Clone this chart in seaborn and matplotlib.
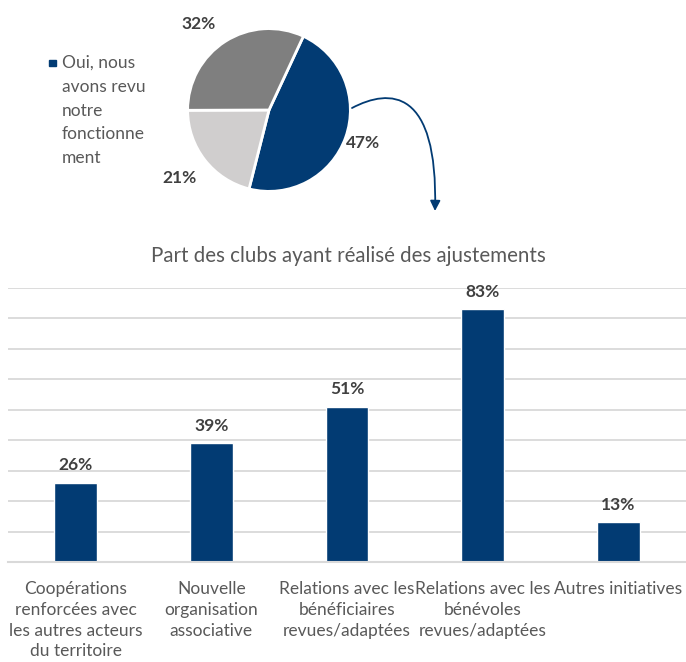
import matplotlib
matplotlib.use("Agg")
import matplotlib.pyplot as plt
from matplotlib.patches import FancyArrowPatch
from matplotlib.path import Path
import seaborn as sns

# données du camembert
pie_values = [47, 21, 32]
pie_labels = ["47%", "21%", "32%"]
pie_colors = ["#023B73", "#D0CECE", "#7F7F7F"]
legend_text = "Oui, nous\navons revu\nnotre\nfonctionne\nment"

# données du graphique en barres
categories = [
    "Coopérations\nrenforcées avec\nles autres acteurs\ndu territoire",
    "Nouvelle\norganisation\nassociative",
    "Relations avec les\nbénéficiaires\nrevues/adaptées",
    "Relations avec les\nbénévoles\nrevues/adaptées",
    "Autres initiatives",
]
values = [0.26, 0.39, 0.51, 0.83, 0.13]
bar_labels = ["26%", "39%", "51%", "83%", "13%"]

W, H = 686, 662
BLEU = "#023B73"
TEXTE = "#404040"
GRIS = "#595959"


def fx(x):
    return x / W


def fy(y):
    return 1 - y / H


sns.set_theme(style="white")
plt.rcParams['font.family'] = ['Lato', 'DejaVu Sans']

fig = plt.figure(figsize=(W / 100, H / 100), dpi=100)

# camembert
cx, cy, r = 269, 110, 83
ax_pie = fig.add_axes([fx(cx - r), fy(cy + r), 2 * r / W, 2 * r / H])
ax_pie.pie(pie_values, colors=pie_colors, startangle=65, counterclock=False,
           wedgeprops=dict(edgecolor="white", linewidth=2))
ax_pie.set_xlim(-1.02, 1.02)
ax_pie.set_ylim(-1.02, 1.02)
ax_pie.set_aspect("equal")

# étiquettes du camembert
pie_pos = [(363, 143), (180, 178), (199, 24)]
for lab, (x, y) in zip(pie_labels, pie_pos):
    fig.text(fx(x), fy(y), lab, ha="center", va="center", fontsize=12.5,
             fontweight="bold", color=TEXTE)

# légende
fig.patches.append(plt.Rectangle((fx(49), fy(66)), 6.5 / W, 6.5 / H,
                                 transform=fig.transFigure, color=BLEU))
fig.text(fx(62), fy(55), legend_text, ha="left", va="top", fontsize=12.5,
         color=GRIS, linespacing=1.6)

# flèche courbe
verts = [(fx(352), fy(108)), (fx(390), fy(88)), (fx(438), fy(88)), (fx(435), fy(211))]
path = Path(verts, [Path.MOVETO, Path.CURVE4, Path.CURVE4, Path.CURVE4])
fleche = FancyArrowPatch(path=path, transform=fig.transFigure, color=BLEU,
                         linewidth=1.3, arrowstyle="-|>,head_length=6,head_width=3")
fig.patches.append(fleche)

# graphique en barres
ax = fig.add_axes([fx(8), fy(562), (W - 8) / W, 274 / H])
sns.barplot(x=list(range(len(values))), y=values, color=BLEU, width=0.317,
            saturation=1, ax=ax, native_scale=True)
ax.set_xlim(-0.5, 4.5)
ax.set_ylim(0, 0.9)
ax.set_yticks([i / 10 for i in range(10)])
ax.yaxis.grid(True, color="#D9D9D9", linewidth=1.3)
ax.set_axisbelow(True)
ax.tick_params(axis="y", left=False, labelleft=False)
for s in ["top", "right", "left"]:
    ax.spines[s].set_visible(False)
ax.spines["bottom"].set_color("#D9D9D9")
ax.spines["bottom"].set_linewidth(1.5)
ax.set_xticks(range(len(categories)))
ax.set_xticklabels(categories, fontsize=12.5, color=GRIS, linespacing=1.35)
ax.tick_params(axis="x", bottom=False, pad=8)
ax.set_xlabel("")
ax.set_ylabel("")

for i, (v, lab) in enumerate(zip(values, bar_labels)):
    ax.annotate(lab, (i, v), xytext=(0, 7), textcoords="offset points",
                ha="center", va="bottom", fontsize=12.5, fontweight="bold",
                color=TEXTE)

fig.text(fx(348), fy(256), "Part des clubs ayant réalisé des ajustements",
         ha="center", va="center", fontsize=14.8, color=GRIS)

fig.savefig("out.png", dpi=100)
